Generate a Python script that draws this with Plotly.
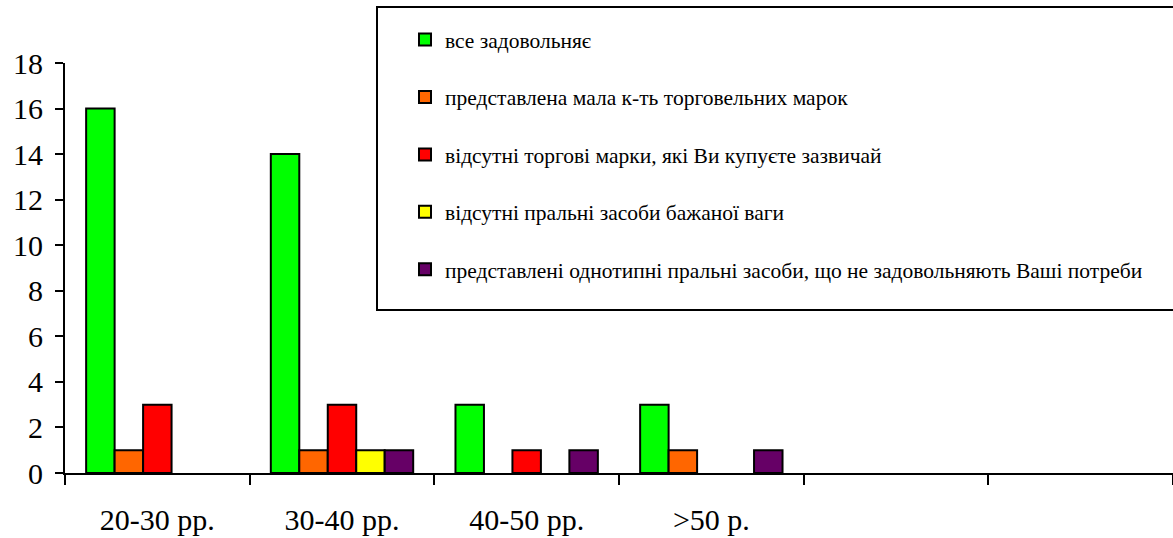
import plotly.graph_objects as go

categories = ["20-30 рр.", "30-40 рр.", "40-50 рр.", ">50 р.", " ", "  "]
series_names = [
    "все задовольняє",
    "представлена мала к-ть торговельних марок",
    "відсутні торгові марки, які Ви купуєте зазвичай",
    "відсутні пральні засоби бажаної ваги",
    "представлені однотипні пральні засоби, що не задовольняють Ваші потреби",
]
s_green = [16, 14, 3, 3]
s_orange = [1, 1, None, 1]
s_red = [3, 3, 1, None]
s_yellow = [None, 1, None, None]
s_purple = [None, 1, 1, 1]
series_values = [s_green, s_orange, s_red, s_yellow, s_purple]
colors = ["#00FF00", "#FF6600", "#FF0000", "#FFFF00", "#660066"]
y_ticks = [0, 2, 4, 6, 8, 10, 12, 14, 16, 18]

W, H = 1173, 538
ML, MR, MT, MB = 65, 0, 63, 65
PW, PH = W - ML - MR, H - MT - MB


def px_x(p):
    return (p - ML) / PW


def px_y(p):
    return (H - MB - p) / PH


FONT = "Liberation Serif, Times New Roman, serif"

fig = go.Figure()
for i, (name, vals, col) in enumerate(zip(series_names, series_values, colors)):
    fig.add_trace(go.Bar(
        x=categories[:len(vals)], y=vals, name=name,
        marker=dict(color=col, line=dict(color="black", width=2)),
        legendgroup=f"g{i}",
    ))

fig.update_layout(
    width=W, height=H,
    margin=dict(l=ML, r=MR, t=MT, b=MB),
    paper_bgcolor="white", plot_bgcolor="white",
    barmode="group", bargap=0.229, bargroupgap=0,
    font=dict(family=FONT, color="black"),
    showlegend=True,
    legend=dict(
        x=px_x(405), y=px_y(19), xanchor="left", yanchor="top",
        bgcolor="rgba(0,0,0,0)", borderwidth=0,
        font=dict(family=FONT, size=21.5, color="black"),
        tracegroupgap=26.5, traceorder="grouped",
        maxheight=520,
    ),
    xaxis=dict(
        type="category", categoryorder="array", categoryarray=categories,
        range=[-0.5, len(categories) - 0.5],
        showline=True, linecolor="black", linewidth=2,
        ticks="outside", ticklen=10, tickwidth=2, tickcolor="black",
        tickson="boundaries", showgrid=False, zeroline=False,
        tickfont=dict(family=FONT, size=30, color="black"),
        ticklabelstandoff=19,
    ),
    yaxis=dict(
        range=[0, 18], tickvals=y_ticks,
        showline=True, linecolor="black", linewidth=2,
        ticks="outside", ticklen=8, tickwidth=2, tickcolor="black",
        showgrid=False, zeroline=False,
        tickfont=dict(family=FONT, size=30, color="black"),
        ticklabelstandoff=6,
    ),
    shapes=[dict(
        type="rect", xref="paper", yref="paper",
        x0=px_x(377), x1=px_x(1185), y0=px_y(310), y1=px_y(7),
        line=dict(color="black", width=2), fillcolor="white", layer="above",
    )],
)

fig.write_html(
    "out.html",
    config={"displayModeBar": False},
    post_script="document.body.style.margin='0';document.body.style.padding='0';",
)
